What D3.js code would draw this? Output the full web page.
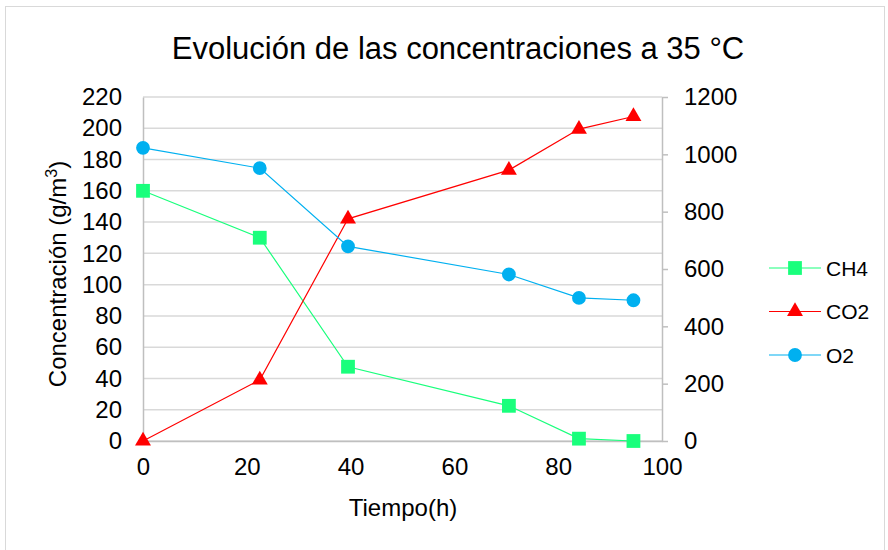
<!DOCTYPE html>
<html>
<head>
<meta charset="utf-8">
<script src="https://cdn.jsdelivr.net/npm/d3@7"></script>
<style>
  body { margin: 0; background: #fff; }
  text { font-family: "Liberation Sans", Arial, sans-serif; fill: #000; }
</style>
</head>
<body>
<div id="vis"></div>
<script>
'use strict'

// data
const hours = [0, 22.5, 39.5, 70.5, 84, 94.5]
const ch4 = [160, 130, 47.5, 22.5, 1.5, 0]
const co2 = [0, 213, 775, 945, 1088, 1132]
const o2 = [187.5, 174.5, 124.5, 106.5, 91.5, 90]
const xTicks = [0, 20, 40, 60, 80, 100]
const leftTicks = d3.range(0, 221, 20)
const rightTicks = d3.range(0, 1201, 200)

const series = [
  { name: 'CH4', values: ch4, axis: 'left', color: '#19ff7c', symbol: d3.symbolSquare }
, { name: 'CO2', values: co2, axis: 'right', color: '#ff0000', symbol: d3.symbolTriangle }
, { name: 'O2', values: o2, axis: 'left', color: '#00b0f0', symbol: d3.symbolCircle }
]

const totalWidth = 888
const totalHeight = 550
const margin = { top: 97, right: 226, bottom: 109, left: 143 }
const width = totalWidth - margin.left - margin.right
const height = totalHeight - margin.top - margin.bottom

const x = d3.scaleLinear().domain([0, 100]).range([0, width])
const yLeft = d3.scaleLinear().domain([0, 220]).range([height, 0])
const yRight = d3.scaleLinear().domain([0, 1200]).range([height, 0])

function symbolSize(type) {
  if (type === d3.symbolTriangle) return 110
  if (type === d3.symbolCircle) return 150
  return 190
}

const svg = d3.select('div#vis')
  .append('svg')
    .attr('width', totalWidth)
    .attr('height', totalHeight)

svg // outer frame
  .append('rect')
    .attr('x', 5.5).attr('y', 6.5)
    .attr('width', 879).attr('height', 560)
    .attr('fill', 'none')
    .attr('stroke', '#d9d9d9')

svg.append('text')
  .attr('x', 458).attr('y', 59)
  .attr('text-anchor', 'middle')
  .style('font-size', '31px')
  .text('Evolución de las concentraciones a 35 °C')

const inner = svg.append('g')
  .attr('transform', 'translate(' + margin.left + ',' + margin.top + ')')

// gridlines
inner.selectAll('line.grid')
  .data(leftTicks)
  .join('line')
    .attr('x1', 0).attr('x2', width)
    .attr('y1', d => yLeft(d)).attr('y2', d => yLeft(d))
    .attr('stroke', '#d9d9d9')
    .attr('stroke-width', 1.5)

// left axis
const leftAxis = inner.append('g')
  .call(d3.axisLeft(yLeft).tickValues(leftTicks).tickSize(0).tickPadding(21))
leftAxis.select('.domain').attr('stroke', '#bfbfbf').attr('stroke-width', 1.5)
leftAxis.selectAll('text').style('font-size', '24px')

// right axis
const rightAxis = inner.append('g')
  .attr('transform', 'translate(' + width + ',0)')
  .call(d3.axisRight(yRight).tickValues(rightTicks).tickFormat(d3.format('d'))
    .tickSizeInner(6).tickSizeOuter(0).tickPadding(16))
rightAxis.select('.domain').attr('stroke', '#bfbfbf').attr('stroke-width', 1.5)
rightAxis.selectAll('line').attr('stroke', '#bfbfbf').attr('stroke-width', 1.5)
rightAxis.selectAll('text').style('font-size', '24px')

// bottom axis
const bottomAxis = inner.append('g')
  .attr('transform', 'translate(0,' + height + ')')
  .call(d3.axisBottom(x).tickValues(xTicks).tickSize(0).tickPadding(17))
bottomAxis.select('.domain').attr('stroke', '#bfbfbf').attr('stroke-width', 1.5)
bottomAxis.selectAll('text').style('font-size', '24px')

svg.append('text')
  .attr('x', 403).attr('y', 516)
  .attr('text-anchor', 'middle')
  .style('font-size', '24px')
  .text('Tiempo(h)')

const yLabel = svg.append('text')
  .attr('transform', 'translate(66,274) rotate(-90)')
  .attr('text-anchor', 'middle')
  .style('font-size', '24px')
yLabel.append('tspan').text('Concentración (g/m')
yLabel.append('tspan').attr('dy', -9).style('font-size', '16px').text('3')
yLabel.append('tspan').attr('dy', 9).text(')')

// series
series.forEach(s => {
  const y = s.axis === 'left' ? yLeft : yRight
  const pts = hours.map((h, i) => [x(h), y(s.values[i])])

  inner.append('path')
    .attr('d', d3.line()(pts))
    .attr('fill', 'none')
    .attr('stroke', s.color)
    .attr('stroke-width', 1.2)

  inner.selectAll(null)
    .data(pts)
    .join('path')
      .attr('transform', d => 'translate(' + d[0] + ',' + d[1] + ')')
      .attr('d', d3.symbol().type(s.symbol).size(symbolSize(s.symbol)))
      .attr('fill', s.color)
})

// legend
const legend = svg.append('g')
  .attr('transform', 'translate(769,268)')

const legendRow = legend.selectAll('g')
  .data(series)
  .join('g')
    .attr('transform', (d, i) => 'translate(0,' + (i * 43.5) + ')')

legendRow.append('line')
  .attr('x1', 0).attr('x2', 52)
  .attr('stroke', d => d.color)
  .attr('stroke-width', 1.2)

legendRow.append('path')
  .attr('transform', 'translate(26,0)')
  .attr('d', d => d3.symbol().type(d.symbol).size(symbolSize(d.symbol))())
  .attr('fill', d => d.color)

legendRow.append('text')
  .attr('x', 57).attr('y', 7.5)
  .style('font-size', '21px')
  .text(d => d.name)
</script>
</body>
</html>
